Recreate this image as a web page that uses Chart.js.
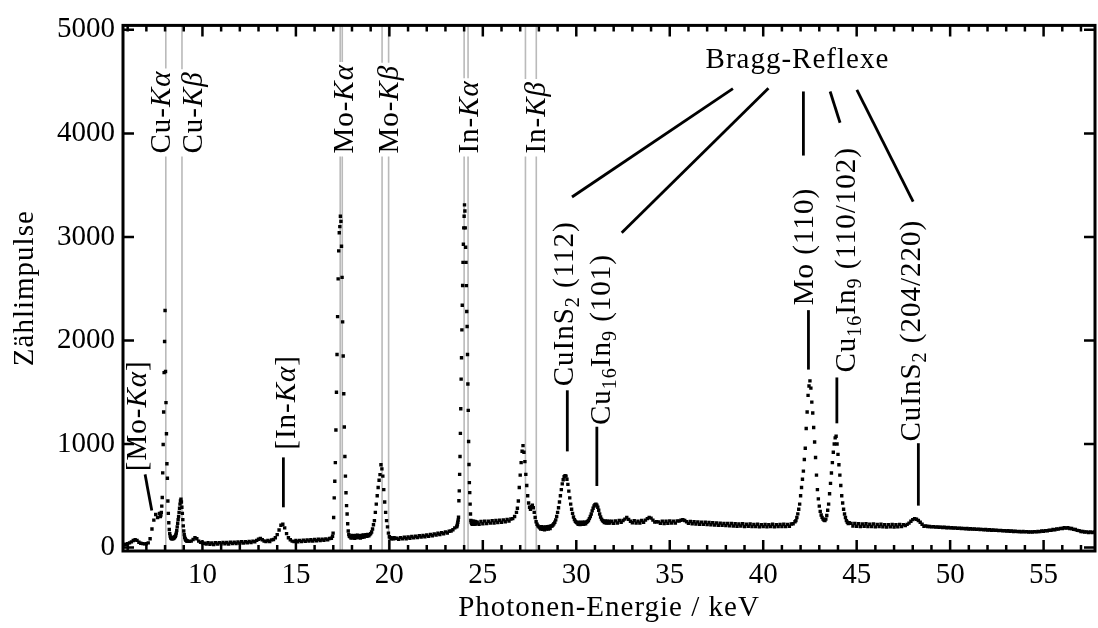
<!DOCTYPE html>
<html lang="de">
<head>
<meta charset="utf-8">
<title>Röntgenfluoreszenz-Spektrum</title>
<script src="https://cdn.jsdelivr.net/npm/chart.js@4.4.1/dist/chart.umd.min.js"></script>
<style>
  html, body { margin: 0; padding: 0; background: #fff; }
  #box { width: 1098px; height: 628px; }
</style>
</head>
<body>
<div id="box"><canvas id="spektrum"></canvas></div>
<script>
const grund1 = [28, 32, 38, 45, 55, 68, 76, 70, 52, 42, 38, 36, 37, 45, 85, 180, 265, 320, 290, 330];
const cuPeaks = [300, 315, 340, 400, 484, 722, 995, 1310, 1690, 1990, 2290, 1700, 1400, 1100, 810, 670, 450, 330, 240, 175,
  135, 112, 98, 90, 86, 92, 85, 95, 88, 100, 94, 104, 110, 122, 140, 165, 200, 235, 270, 300,
  340, 380, 420, 450, 468, 440, 390, 330, 270, 210, 160, 125, 100, 86, 76, 70, 66, 64, 62];
const grund2 = [60, 62, 78, 95, 85, 62, 50, 45,
  42, 34, 46, 32, 44, 30, 46, 34, 48, 36,
  50, 37, 49, 35, 51, 39, 52, 40, 54, 42,
  56, 43, 57, 46, 59, 48, 62, 56, 70, 80,
  88, 76, 64, 58, 70, 59, 74, 78, 95, 125,
  170, 215, 225, 190, 135, 95, 75, 62, 58, 68,
  56, 70, 58, 72, 60, 74, 62, 76, 64, 78,
  66, 80, 68, 82, 71, 84, 74, 88, 90];
const moKa = [110, 140, 290, 480, 640, 820, 1135, 1500, 1865, 2230, 2595, 2865, 3040, 3100, 3200, 3150,
  2910, 2610, 2180, 1850, 1485, 1165, 880, 690, 530, 405, 325, 230, 160, 125, 110];
const moKb = [105, 92, 118, 94, 114, 90, 116, 96, 120, 98, 114, 92,
  118, 100, 122, 102, 118, 124, 110, 128, 114, 125, 135, 150,
  180, 220, 260, 340, 420, 500, 580, 650, 705, 800, 760, 690,
  560, 440, 340, 260, 200, 140, 105, 95, 86, 94, 84, 96, 88];
const grund3 = [90, 80, 96, 84, 100, 86, 102, 90, 107, 94,
  110, 97, 114, 101, 117, 104, 121, 108, 126, 114,
  132, 120, 138, 126, 144, 133, 152, 141, 158, 160, 172, 190];
const inKa = [200, 210, 225, 245, 265, 293, 452, 548, 707, 880, 1103, 1341, 1627, 1833, 2103,
  2341, 2531, 2754, 2929, 3088, 3200, 3310, 3250, 3088, 2900, 2754, 2530, 2280, 2135, 1865,
  1580, 1325, 1024, 802, 627, 531, 420, 325, 262, 245, 232, 256, 226, 250, 230, 254, 224, 248,
  230, 252, 228, 250, 232];
const grund4 = [246, 226, 252, 230, 256, 232, 254, 236, 260, 238, 262, 242, 264, 244, 268, 250, 272, 256, 276, 280, 300, 340];
const inKbCuIn = [380, 450, 580, 700, 820, 930, 985, 920, 830, 707, 600, 500, 430, 390, 370, 395, 410, 385, 340, 290,
  250, 225, 210, 200, 192, 180, 202, 176, 198, 172, 200, 178, 202, 180, 204, 184, 208, 208, 218, 230,
  245, 268, 300, 340, 385, 440, 500, 560, 615, 655, 685, 695, 690, 660, 610, 545, 480, 420, 370, 330,
  295, 270, 255, 245, 238, 226, 246, 222, 242, 224, 244, 226, 246, 230, 245, 252, 262, 280, 300, 325,
  355, 380, 402, 415, 420, 410, 390, 360, 325, 295, 275, 262, 255, 242, 258, 238, 256, 236, 256, 238];
const grund5 = [254, 234, 258, 238, 262, 244, 262, 275, 290, 272, 255, 240,
  260, 236, 256, 238, 262, 244, 265, 280, 292, 285, 265, 246,
  250, 248, 234, 256, 232, 254, 234, 258, 238, 256, 236, 258,
  256, 264, 270, 262, 250, 234, 252, 230, 250, 228, 248, 226,
  246, 224, 244, 222, 242, 220, 240, 218, 238, 216, 236, 214,
  234, 212, 232, 210, 232, 208, 230, 206, 228, 208, 230, 204,
  226, 206, 228, 202, 224, 204, 226, 200, 222, 202,
  224, 200, 222, 204, 226, 200, 222, 202, 224, 204,
  226, 202, 224, 206, 228, 230, 250];
const moCu = [260, 290, 326, 370, 420, 500, 580, 660, 738, 850,
  960, 1150, 1310, 1470, 1560, 1610, 1540, 1405, 1300, 1160,
  1020, 870, 700, 560, 470, 400, 350, 315, 292, 275,
  265, 262, 275, 310, 360, 420, 520, 620, 720, 820,
  920, 1000, 1060, 1075, 1000, 900, 800, 700, 600, 500,
  430, 370, 325, 290, 260, 245, 232, 240];
const grund6 = [234, 208, 232, 206, 230, 204, 228, 206, 230, 202, 226, 204, 228, 200,
  224, 202, 226, 200, 222, 198, 222, 200, 224, 198,
  220, 200, 224, 202, 222, 212, 224, 236, 255, 270,
  280, 274, 262, 245, 226, 206, 210, 204, 204, 200,
  202, 198, 200, 196, 198, 194, 196, 192, 194, 190,
  192, 188, 190, 186, 188, 184, 186, 182, 184, 180,
  182, 178, 180, 176, 178, 174, 176, 172, 174, 170,
  172, 168, 170, 166, 168, 164, 166, 162, 164, 160,
  162, 158, 160, 156, 158, 154, 156, 152, 156, 152,
  154, 150, 152, 150, 154, 152, 156, 154, 160, 158,
  164, 162, 168, 166, 174, 172, 180, 178, 186, 184,
  192, 188, 192, 184, 184, 176, 174, 166, 164, 156,
  156, 150, 152, 146, 150, 144, 150];

// [Startenergie, Kanalabstand, Werte]
const abschnitte = [
  [5.8, 0.1, grund1],
  [7.75, 0.025, cuPeaks],
  [9.3, 0.1, grund2],
  [16.96, 0.03, moKa],
  [17.9, 0.05, moKb],
  [20.4, 0.1, grund3],
  [23.6, 0.02, inKa],
  [24.7, 0.1, grund4],
  [26.85, 0.05, inKbCuIn],
  [31.9, 0.1, grund5],
  [41.75, 0.05, moCu],
  [44.7, 0.1, grund6],
];

const xMin = 5.75, xMax = 57.75;
const yMin = -33, yMax = 5043;
const xTickWerte = [10, 15, 20, 25, 30, 35, 40, 45, 50, 55];
const yTickWerte = [0, 1000, 2000, 3000, 4000, 5000];

// Fluoreszenzlinien (keV) mit Beschriftung
const fluoreszenz = [
  { teile: [['Cu-', 'n'], ['Kα', 'i']], linien: [8.04], textE: 8.27 },
  { teile: [['Cu-', 'n'], ['Kβ', 'i']], linien: [8.905], textE: 9.96 },
  { teile: [['Mo-', 'n'], ['Kα', 'i']], linien: [17.37, 17.48], textE: 18.07 },
  { teile: [['Mo-', 'n'], ['Kβ', 'i']], linien: [19.61, 19.96], textE: 20.48 },
  { teile: [['In-', 'n'], ['Kα', 'i']], linien: [24.0, 24.21], textE: 24.76 },
  { teile: [['In-', 'n'], ['Kβ', 'i']], linien: [27.28, 27.86], textE: 28.33 },
];
const fluoStart = 3805;

// gedrehte Beschriftungen mit Strich: [E, Impulse oben, E, Impulse unten]
const hinweise = [
  { teile: [['[Mo-', 'n'], ['Kα', 'i'], [']', 'n']], textE: 7.0, start: 738, strich: [6.93, 707, 7.29, 357] },
  { teile: [['[In-', 'n'], ['Kα', 'i'], [']', 'n']], textE: 14.94, start: 945, strich: [14.33, 871, 14.33, 389] },
  { teile: [['CuInS', 'n'], ['2', 's'], [' (112)', 'n']], textE: 29.83, start: 1557, strich: [29.52, 1519, 29.52, 929] },
  { teile: [['Cu', 'n'], ['16', 's'], ['In', 'n'], ['9', 's'], [' (101)', 'n']], textE: 31.79, start: 1183, strich: [31.1, 1167, 31.1, 595] },
  { teile: [['Mo (110)', 'n']], textE: 42.67, start: 2341, strich: [42.42, 2293, 42.42, 1719] },
  { teile: [['Cu', 'n'], ['16', 's'], ['In', 'n'], ['9', 's'], [' (110/102)', 'n']], textE: 44.9, start: 1690, strich: [43.94, 1643, 43.94, 1200] },
  { teile: [['CuInS', 'n'], ['2', 's'], [' (204/220)', 'n']], textE: 48.39, start: 1024, strich: [48.3, 1008, 48.3, 405] },
];
const braggText = 'Bragg-Reflexe';
const braggPos = [41.83, 4633];
const braggStriche = [
  [38.38, 4433, 29.77, 3386],
  [40.28, 4436, 32.43, 3040],
  [42.15, 4405, 42.15, 3786],
  [43.58, 4405, 44.11, 4103],
  [45.01, 4421, 48.02, 3341],
];

const SCHRIFT = "'Liberation Serif', 'DejaVu Serif', serif";
function schrift(art) {
  if (art === 'i') return 'italic 29px ' + SCHRIFT;
  if (art === 's') return '20px ' + SCHRIFT;
  return '29px ' + SCHRIFT;
}

// Text aus Teilen (normal / kursiv / tiefgestellt), optional gedreht
function schreibe(ctx, teile, x, y, gedreht, nurMessen) {
  ctx.save();
  ctx.letterSpacing = '1px';
  ctx.translate(x, y);
  if (gedreht) ctx.rotate(-Math.PI / 2);
  ctx.textBaseline = 'alphabetic';
  ctx.textAlign = 'left';
  ctx.fillStyle = '#000';
  let pos = 0;
  for (const [t, art] of teile) {
    ctx.font = schrift(art);
    if (!nurMessen) ctx.fillText(t, pos, art === 's' ? 6 : 0);
    pos += ctx.measureText(t).width;
  }
  ctx.restore();
  return pos;
}

const punkte = [];
abschnitte.forEach(([start, schritt, werte]) => {
  werte.forEach((w, i) => punkte.push({ x: +(start + i * schritt).toFixed(3), y: w }));
});

const rahmen = {
  id: 'rahmen',
  beforeDatasetsDraw(chart) {
    const { ctx, chartArea: ca, scales: { x, y } } = chart;
    const y0 = y.getPixelForValue(fluoStart);
    ctx.save();
    ctx.strokeStyle = '#bababa';
    ctx.lineWidth = 1.6;
    fluoreszenz.forEach(f => {
      const laenge = schreibe(ctx, f.teile, 0, 0, true, true);
      f.linien.forEach(e => {
        const px = x.getPixelForValue(e);
        ctx.beginPath();
        ctx.moveTo(px, ca.top);
        ctx.lineTo(px, y0 - laenge - 2);
        ctx.moveTo(px, y0 + 3);
        ctx.lineTo(px, ca.bottom);
        ctx.stroke();
      });
    });
    ctx.restore();
  },
  afterDraw(chart) {
    const { ctx, chartArea: ca, scales: { x, y } } = chart;
    ctx.save();
    ctx.strokeStyle = '#000';
    ctx.lineCap = 'butt';

    // Ticks nach innen
    ctx.lineWidth = 2.5;
    ctx.beginPath();
    for (let e = 6; e <= 57; e++) {
      const px = x.getPixelForValue(e);
      const l = e % 5 === 0 ? 11 : 6;
      ctx.moveTo(px, ca.bottom); ctx.lineTo(px, ca.bottom - l);
      ctx.moveTo(px, ca.top); ctx.lineTo(px, ca.top + l);
    }
    y.ticks.forEach(t => {
      const py = y.getPixelForValue(t.value);
      ctx.moveTo(ca.left, py); ctx.lineTo(ca.left + 11, py);
      ctx.moveTo(ca.right, py); ctx.lineTo(ca.right - 11, py);
    });
    ctx.stroke();

    ctx.lineWidth = 3;
    ctx.strokeRect(ca.left, ca.top, ca.right - ca.left, ca.bottom - ca.top);

    // Fluoreszenz-Beschriftungen
    const y0 = y.getPixelForValue(fluoStart);
    fluoreszenz.forEach(f => schreibe(ctx, f.teile, x.getPixelForValue(f.textE), y0, true));

    // Hinweise mit Strich
    ctx.lineWidth = 2.8;
    hinweise.forEach(h => {
      schreibe(ctx, h.teile, x.getPixelForValue(h.textE), y.getPixelForValue(h.start), true);
      const [e1, c1, e2, c2] = h.strich;
      ctx.beginPath();
      ctx.moveTo(x.getPixelForValue(e1), y.getPixelForValue(c1));
      ctx.lineTo(x.getPixelForValue(e2), y.getPixelForValue(c2));
      ctx.stroke();
    });

    // Bragg-Reflexe
    const bw = schreibe(ctx, [[braggText, 'n']], 0, 0, false, true);
    schreibe(ctx, [[braggText, 'n']], x.getPixelForValue(braggPos[0]) - bw / 2, y.getPixelForValue(braggPos[1]), false);
    braggStriche.forEach(([e1, c1, e2, c2]) => {
      ctx.beginPath();
      ctx.moveTo(x.getPixelForValue(e1), y.getPixelForValue(c1));
      ctx.lineTo(x.getPixelForValue(e2), y.getPixelForValue(c2));
      ctx.stroke();
    });

    // Achsentitel
    const xt = [['Photonen-Energie / keV', 'n']];
    const xw = schreibe(ctx, xt, 0, 0, false, true);
    schreibe(ctx, xt, (ca.left + ca.right) / 2 - xw / 2, 616, false);
    const yt = [['Zählimpulse', 'n']];
    const yw = schreibe(ctx, yt, 0, 0, true, true);
    schreibe(ctx, yt, 33, (ca.top + ca.bottom) / 2 + yw / 2, true);
    ctx.restore();
  }
};

Chart.defaults.font.family = SCHRIFT;
Chart.defaults.font.size = 29;
Chart.defaults.color = '#000';

new Chart(document.getElementById('spektrum'), {
  type: 'scatter',
  data: {
    datasets: [{
      data: punkte,
      pointStyle: 'rect',
      pointRadius: 2.4,
      pointHoverRadius: 2.4,
      backgroundColor: '#000',
      borderWidth: 0
    }]
  },
  options: {
    responsive: true,
    maintainAspectRatio: false,
    animation: false,
    events: [],
    layout: { padding: { top: 18, right: 3, left: 0, bottom: 0 } },
    plugins: { legend: { display: false }, tooltip: { enabled: false } },
    scales: {
      x: {
        type: 'linear', min: xMin, max: xMax,
        grid: { display: false, drawTicks: false },
        border: { display: false },
        ticks: { padding: 7, maxRotation: 0, autoSkip: false, callback: v => String(v) },
        afterBuildTicks(s) { s.ticks = xTickWerte.map(v => ({ value: v })); },
        afterFit(s) { s.height = 77; }
      },
      y: {
        type: 'linear', min: yMin, max: yMax,
        grid: { display: false, drawTicks: false },
        border: { display: false },
        ticks: { padding: 8, callback: v => String(v) },
        afterBuildTicks(s) { s.ticks = yTickWerte.map(v => ({ value: v })); },
        afterFit(s) { s.width = 123; }
      }
    }
  },
  plugins: [rahmen]
});
</script>
</body>
</html>
